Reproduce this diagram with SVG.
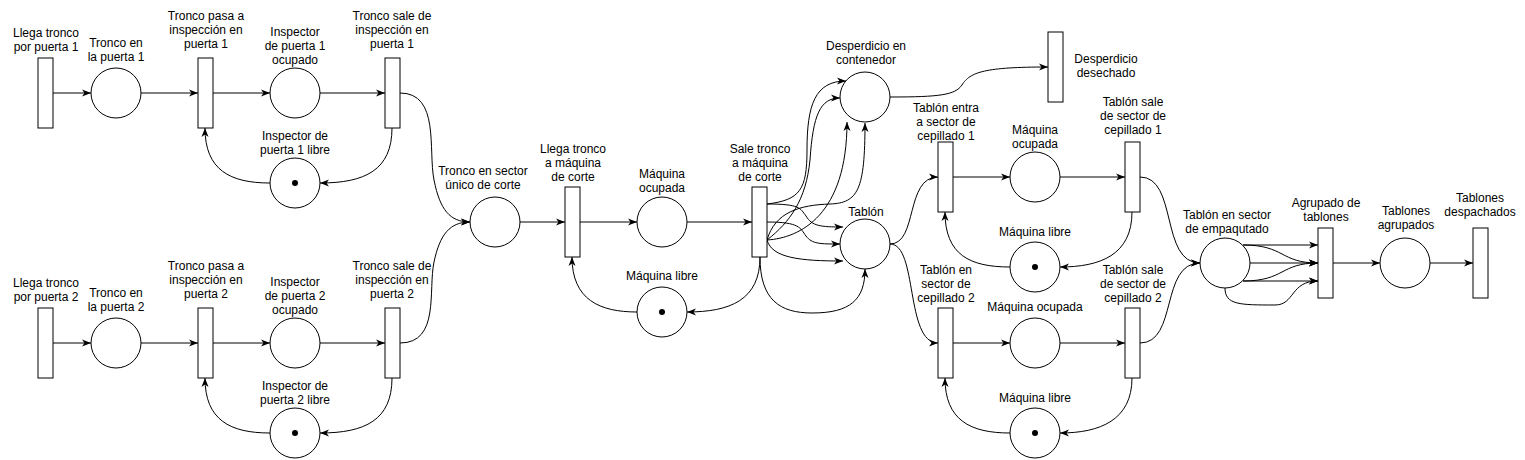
<svg xmlns="http://www.w3.org/2000/svg" width="1525" height="460" viewBox="0 0 1525 460">
<style>
.t{fill:#fff;stroke:#000;stroke-width:1}
.p{fill:#fff;stroke:#000;stroke-width:1}
.k{fill:#000}
.e{fill:none;stroke:#000;stroke-width:1;marker-end:url(#a)}
text{font-family:"Liberation Sans",Arial,sans-serif;font-size:12px;fill:#000;text-anchor:middle}
</style>
<defs>
<marker id="a" markerUnits="userSpaceOnUse" markerWidth="10" markerHeight="8" refX="9" refY="4" orient="auto">
<path d="M0,0.5 L9,4 L0,7.5 L2.5,4 Z" fill="#000"/>
</marker>
</defs>
<rect width="1525" height="460" fill="#fff"/>
<g id="connectors">
<path class="e" d="M53,93 L91,93"/>
<path class="e" d="M141,93 L198,93"/>
<path class="e" d="M213,93 L270,93"/>
<path class="e" d="M320,93 L385,93"/>
<path class="e" d="M392,128 C392,170 365,183 320,183"/>
<path class="e" d="M270,183 C230,183 205,170 205,128"/>
<path class="e" d="M53,343 L91,343"/>
<path class="e" d="M141,343 L198,343"/>
<path class="e" d="M213,343 L270,343"/>
<path class="e" d="M320,343 L385,343"/>
<path class="e" d="M392,378 C392,420 365,433 320,433"/>
<path class="e" d="M270,433 C230,433 205,420 205,378"/>
<path class="e" d="M400,93 C440,93 428,150 434,180 C440,210 450,222 470,222"/>
<path class="e" d="M400,343 C440,343 428,290 434,262 C440,234 450,222 470,222"/>
<path class="e" d="M520,222 L565,222"/>
<path class="e" d="M580,222 L637,222"/>
<path class="e" d="M687,222 L752,222"/>
<path class="e" d="M760,257 C760,300 730,312 687,312"/>
<path class="e" d="M637,312 C600,312 572,300 572,257"/>
<path class="e" d="M767,204 C800,200 807,190 807,150 C807,105 815,81 846,81"/>
<path class="e" d="M767,240 C790,222 806,200 810,160 C813,115 820,98 840,98"/>
<path class="e" d="M767,240 C800,238 847,215 847,122"/>
<path class="e" d="M767,240 C775,212 800,205 830,204 C858,203 865,190 865,123"/>
<path class="e" d="M767,204 C800,204 800,208 806,216 C812,226 820,227 843,227"/>
<path class="e" d="M767,222 C800,222 800,228 806,236 C812,244 820,244 840,244"/>
<path class="e" d="M767,240 C772,258 800,261 843,261"/>
<path class="e" d="M760,257 C760,300 780,313 812,313 C850,313 865,300 865,269"/>
<path class="e" d="M890,97 C940,97 955,95 962,85 C970,72 985,67 1048,67"/>
<path class="e" d="M890,244 C918,244 905,177 938,177"/>
<path class="e" d="M890,244 C918,244 905,343 938,343"/>
<path class="e" d="M953,177 L1010,177"/>
<path class="e" d="M1060,177 L1125,177"/>
<path class="e" d="M1132,212 C1132,255 1100,267 1060,267"/>
<path class="e" d="M1010,267 C970,267 945,255 945,212"/>
<path class="e" d="M953,343 L1010,343"/>
<path class="e" d="M1060,343 L1125,343"/>
<path class="e" d="M1132,378 C1132,420 1100,433 1060,433"/>
<path class="e" d="M1010,433 C970,433 945,420 945,378"/>
<path class="e" d="M1140,177 C1178,177 1160,263 1200,263"/>
<path class="e" d="M1140,343 C1178,343 1160,263 1200,263"/>
<path class="e" d="M1243,245 L1318,245"/>
<path class="e" d="M1243,245 C1285,245 1280,263 1318,263"/>
<path class="e" d="M1250,263 L1318,263"/>
<path class="e" d="M1243,281 C1285,281 1280,263 1318,263"/>
<path class="e" d="M1243,281 L1318,281"/>
<path class="e" d="M1225,288 C1225,305 1240,305 1275,305 C1295,305 1290,281 1318,281"/>
<path class="e" d="M1333,263 L1380,263"/>
<path class="e" d="M1430,263 L1473,263"/>
</g>
<g id="t_llega1"><rect class="t" x="38" y="58" width="15" height="70"/><text x="46" y="37">Llega tronco</text><text x="46" y="51">por puerta 1</text></g>
<g id="p_tronco1"><circle class="p" cx="116" cy="93" r="25"/><text x="116" y="47">Tronco en</text><text x="116" y="61">la puerta 1</text></g>
<g id="t_pasa1"><rect class="t" x="198" y="58" width="15" height="70"/><text x="206" y="20">Tronco pasa a</text><text x="206" y="34">inspección en</text><text x="206" y="48">puerta 1</text></g>
<g id="p_ocup1"><circle class="p" cx="295" cy="93" r="25"/><text x="295" y="36">Inspector</text><text x="295" y="50">de puerta 1</text><text x="295" y="64">ocupado</text></g>
<g id="t_sale1"><rect class="t" x="385" y="58" width="15" height="70"/><text x="392" y="20">Tronco sale de</text><text x="392" y="34">inspección en</text><text x="392" y="48">puerta 1</text></g>
<g id="p_libre1"><circle class="p" cx="295" cy="183" r="25"/><circle class="k" cx="295" cy="183" r="3"/><text x="295" y="140">Inspector de</text><text x="295" y="154">puerta 1 libre</text></g>
<g id="t_llega2"><rect class="t" x="38" y="308" width="15" height="70"/><text x="46" y="287">Llega tronco</text><text x="46" y="301">por puerta 2</text></g>
<g id="p_tronco2"><circle class="p" cx="116" cy="343" r="25"/><text x="116" y="297">Tronco en</text><text x="116" y="311">la puerta 2</text></g>
<g id="t_pasa2"><rect class="t" x="198" y="308" width="15" height="70"/><text x="206" y="270">Tronco pasa a</text><text x="206" y="284">inspección en</text><text x="206" y="298">puerta 2</text></g>
<g id="p_ocup2"><circle class="p" cx="295" cy="343" r="25"/><text x="295" y="286">Inspector</text><text x="295" y="300">de puerta 2</text><text x="295" y="314">ocupado</text></g>
<g id="t_sale2"><rect class="t" x="385" y="308" width="15" height="70"/><text x="392" y="270">Tronco sale de</text><text x="392" y="284">inspección en</text><text x="392" y="298">puerta 2</text></g>
<g id="p_libre2"><circle class="p" cx="295" cy="433" r="25"/><circle class="k" cx="295" cy="433" r="3"/><text x="295" y="390">Inspector de</text><text x="295" y="404">puerta 2 libre</text></g>
<g id="p_corte"><circle class="p" cx="495" cy="222" r="25"/><text x="483" y="175">Tronco en sector</text><text x="483" y="189">único de corte</text></g>
<g id="t_llegacorte"><rect class="t" x="565" y="187" width="15" height="70"/><text x="573" y="153">Llega tronco</text><text x="573" y="167">a máquina</text><text x="573" y="181">de corte</text></g>
<g id="p_maqocup"><circle class="p" cx="662" cy="222" r="25"/><text x="662" y="178">Máquina</text><text x="662" y="192">ocupada</text></g>
<g id="t_salecorte"><rect class="t" x="752" y="187" width="15" height="70"/><text x="760" y="153">Sale tronco</text><text x="760" y="167">a máquina</text><text x="760" y="181">de corte</text></g>
<g id="p_maqlibre"><circle class="p" cx="662" cy="312" r="25"/><circle class="k" cx="662" cy="312" r="3"/><text x="662" y="280">Máquina libre</text></g>
<g id="p_desp"><circle class="p" cx="865" cy="97" r="25"/><text x="866" y="49.5">Desperdicio en</text><text x="866" y="63.5">contenedor</text></g>
<g id="t_despdes"><rect class="t" x="1048" y="32" width="15" height="70"/><text x="1106" y="63">Desperdicio</text><text x="1106" y="77">desechado</text></g>
<g id="p_tablon"><circle class="p" cx="865" cy="244" r="25"/><text x="866" y="216">Tablón</text></g>
<g id="t_entra1"><rect class="t" x="938" y="142" width="15" height="70"/><text x="946" y="112">Tablón entra</text><text x="946" y="126">a sector de</text><text x="946" y="140">cepillado 1</text></g>
<g id="p_cepocup1"><circle class="p" cx="1035" cy="177" r="25"/><text x="1035" y="134">Máquina</text><text x="1035" y="148">ocupada</text></g>
<g id="t_salecep1"><rect class="t" x="1125" y="142" width="15" height="70"/><text x="1133" y="106">Tablón sale</text><text x="1133" y="120">de sector de</text><text x="1133" y="134">cepillado 1</text></g>
<g id="p_ceplibre1"><circle class="p" cx="1035" cy="267" r="25"/><circle class="k" cx="1035" cy="267" r="3"/><text x="1035" y="236">Máquina libre</text></g>
<g id="t_entra2"><rect class="t" x="938" y="308" width="15" height="70"/><text x="946" y="274">Tablón en</text><text x="946" y="288">sector de</text><text x="946" y="302">cepillado 2</text></g>
<g id="p_cepocup2"><circle class="p" cx="1035" cy="343" r="25"/><text x="1035" y="310.5">Máquina ocupada</text></g>
<g id="t_salecep2"><rect class="t" x="1125" y="308" width="15" height="70"/><text x="1133" y="274">Tablón sale</text><text x="1133" y="288">de sector de</text><text x="1133" y="302">cepillado 2</text></g>
<g id="p_ceplibre2"><circle class="p" cx="1035" cy="433" r="25"/><circle class="k" cx="1035" cy="433" r="3"/><text x="1035" y="401.5">Máquina libre</text></g>
<g id="p_empaque"><circle class="p" cx="1225" cy="263" r="25"/><text x="1227" y="219">Tablón en sector</text><text x="1227" y="233">de empaqutado</text></g>
<g id="t_agrupado"><rect class="t" x="1318" y="228" width="15" height="70"/><text x="1326" y="207">Agrupado de</text><text x="1326" y="221">tablones</text></g>
<g id="p_agrupados"><circle class="p" cx="1405" cy="263" r="25"/><text x="1406" y="215">Tablones</text><text x="1406" y="229">agrupados</text></g>
<g id="t_despachados"><rect class="t" x="1473" y="228" width="15" height="70"/><text x="1480" y="202">Tablones</text><text x="1480" y="216">despachados</text></g>
</svg>
